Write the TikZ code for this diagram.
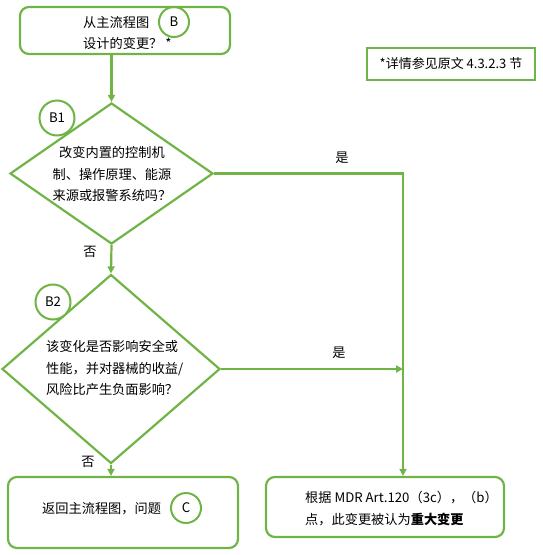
\documentclass[tikz,border=0pt]{standalone}
\usepackage{fontspec}
\setmainfont{Noto Sans CJK SC}
\usetikzlibrary{shapes.geometric,arrows.meta}
\definecolor{gr}{RGB}{112,180,70}
\begin{document}
\begin{tikzpicture}[x=1pt,y=-1pt,
  every node/.style={font=\fontsize{13.2}{21.5}\selectfont, inner sep=0pt},
  box/.style={draw=gr, line width=2.2pt, rounded corners=9pt},
  dia/.style={draw=gr, line width=2.2pt, diamond, inner sep=0pt},
  circ/.style={draw=gr, line width=2pt, circle},
  txt/.style={align=left},
  arr/.style={draw=gr, line width=2.2pt, -{Triangle[length=7pt,width=7pt]}},
  ln/.style={draw=gr, line width=2.2pt}]
\useasboundingbox (0,0) rectangle (542,555);
% boxes
\node[box, minimum width=210pt, minimum height=47pt] (top) at (125,30.5) {};
\node[txt, anchor=west] (toptxt) at (83,33) {从主流程图\\设计的变更？ *};
\node[circ, minimum size=30pt] (cB) at (174,22) {B};

\node[draw=gr, line width=2pt, minimum width=168pt, minimum height=32pt, font=\fontsize{13}{14}\selectfont] (note) at (451,64) {*详情参见原文 4.3.2.3 节};

\node[dia, minimum width=203pt, minimum height=141pt] (b1) at (111.5,173.5) {};
\node[align=center] (b1txt) at (112,174) {改变内置的控制机\\制、操作原理、能源\\来源或报警系统吗？};
\node[circ, minimum size=35pt, fill=white] (cB1) at (57,118) {B1};

\node[dia, minimum width=218pt, minimum height=189pt] (b2) at (111,369) {};
\node[txt, anchor=west] (b2txt) at (46,368) {该变化是否影响安全或\\性能，并对器械的收益/\\风险比产生负面影响？};
\node[circ, minimum size=35pt, fill=white] (cB2) at (53,302) {B2};

\node[box, minimum width=230pt, minimum height=71pt] (ret) at (123,512.5) {};
\node[anchor=west] (rettxt) at (42,509) {返回主流程图，问题};
\node[circ, minimum size=30pt] (cC) at (186,508) {C};

\node[box, minimum width=238pt, minimum height=60pt] (maj) at (385,507) {};
\node[txt, anchor=west] (majtxt) at (305,508.5) {根据 MDR Art.120（3c），（b）\\点，此变更被认为\textbf{重大变更}};

\coordinate (j) at (403,369);

% connectors
\draw[arr] (top.south -| b1.north) -- (b1.north);
\draw[arr] (b1.south) -- (b2.north);
\draw[arr] (b2.south) -- (ret.north -| b2.south);
\draw[ln] (b1.east) -| (j);
\draw[arr] (j) -- (maj.north -| j);
\draw[arr] (b2.east) -- (j);

% labels
\node (y1) at (342,158) {是};
\node (y2) at (339,353) {是};
\node (n1) at (90,252) {否};
\node (n2) at (88,462) {否};
\end{tikzpicture}
\end{document}
